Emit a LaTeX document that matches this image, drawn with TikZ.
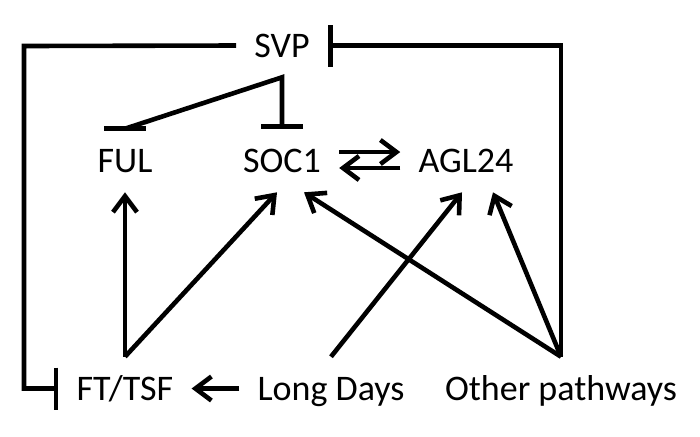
\documentclass[tikz,border=0pt]{standalone}
\usepackage{fontspec}
\setmainfont{Carlito}
\usetikzlibrary{arrows.meta}

\begin{document}
\begin{tikzpicture}[x=0.5pt, y=-0.5pt, line width=2.3pt,
    gene/.style={font=\fontsize{18}{20}\selectfont, anchor=base, inner xsep=8pt, inner ysep=9pt, text height=11.5pt, text depth=0pt},
    act/.style={-{Straight Barb[length=8pt, width=12pt]}},
    inhib/.style={-{Bar[width=21pt]}},
]
\useasboundingbox (0,0) rectangle (700,436);

% genes
\node[gene] (svp) at (282,57) {SVP};
\node[gene] (ful) at (125,172) {FUL};
\node[gene] (soc1) at (282,172) {SOC1};
\node[gene] (agl) at (466,172) {AGL24};

% inputs
\node[gene] (ft) at (125,400) {FT/TSF};
\node[gene] (ld) at (331,400) {Long Days};
\node[gene] (oth) at (561,400) {Other pathways};

\coordinate (lcorner) at (24,46);

% SVP repression
\draw[inhib] (ful.north) -- (svp.south) -- (soc1.north);
\draw ([xshift=-10.5pt]ful.north) -- ([xshift=10.5pt]ful.north);
\draw[inhib] (svp.west) -- (lcorner) |- (ft.west);
\draw[inhib] (oth.north) -- (oth.north |- svp.east) -- (svp.east);

% SOC1 <-> AGL24
\draw[act] ([yshift=4.25pt]soc1.east) -- ([yshift=4.25pt]agl.west);
\draw[act] ([yshift=-3.75pt]agl.west) -- ([yshift=-3.75pt]soc1.east);

% activation
\draw[act] (ld.west) -- (ft.east);
\draw[act] (ft.north) -- (ful.south);
\draw[act] (ft.north) -- ([xshift=-2.5pt]soc1.south);
\draw[act] (ld.north) -- ([xshift=-2pt]agl.south);
\draw[act] (oth.north) -- ([xshift=11pt]soc1.south);
\draw[act] (oth.north) -- ([xshift=13.5pt]agl.south);
\end{tikzpicture}
\end{document}
